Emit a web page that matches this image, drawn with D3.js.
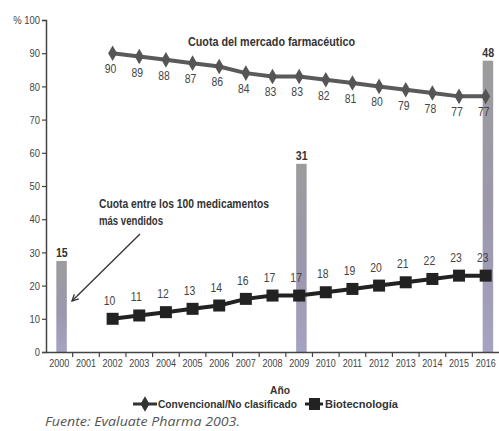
<!DOCTYPE html>
<html><head><meta charset="utf-8">
<script src="https://cdn.jsdelivr.net/npm/d3@7/dist/d3.min.js"></script>
<style>body{margin:0;background:#fff}svg{display:block}</style>
</head><body><svg id="c" width="499" height="431"></svg>
<script>
const years = d3.range(2000, 2017).map(String);
const lineYears = d3.range(2002, 2017).map(String);
const convencional = [90,89,88,87,86,84,83,83,82,81,80,79,78,77,77];
const biotecnologia = [10,11,12,13,14,16,17,17,18,19,20,21,22,23,23];
const barYears = ["2000","2009","2016"];
const barValues = [15,31,48];
const yTicks = [0,10,20,30,40,50,60,70,80,90,100];

const FONT = "'Liberation Sans',Arial,sans-serif";
const SX = 0.82;
const svg = d3.select("#c");
const x = d3.scaleBand().domain(years).range([46, 499]);
const y = d3.scaleLinear().domain([0,100]).range([352, 20]);
const yBar = d3.scaleLinear().domain([0,54.7]).range([352, 20]);
const cx = d => x(d) + x.bandwidth()/2;

function label(sel, px, py, sx){
  return sel.attr("transform", (d,i) => `translate(${px(d,i)},${py(d,i)}) scale(${sx},1)`);
}

const defs = svg.append("defs");
const g = defs.append("linearGradient").attr("id","bg").attr("x1",0).attr("x2",0).attr("y1",0).attr("y2",1);
g.append("stop").attr("offset","0%").attr("stop-color","#9c9c9c");
g.append("stop").attr("offset","55%").attr("stop-color","#9c97ad");
g.append("stop").attr("offset","100%").attr("stop-color","#a5a3c2");

// bars
svg.append("g").selectAll("rect").data(barYears).join("rect")
  .attr("x", d => cx(d) - 3).attr("width", 10.5)
  .attr("y", (d,i) => yBar(barValues[i]))
  .attr("height", (d,i) => 352 - yBar(barValues[i]))
  .attr("fill","url(#bg)");
label(svg.append("g").selectAll("text").data(barYears).join("text"),
    d => cx(d) + 2.5, (d,i) => yBar(barValues[i]) - 4, 0.85)
  .attr("text-anchor","middle").attr("font-family",FONT).attr("font-weight","bold")
  .attr("font-size",12.5).attr("fill","#333").text((d,i)=>barValues[i]);

// axes
const xAxis = svg.append("g").attr("transform","translate(0,352)")
  .call(d3.axisBottom(x).tickSize(0).tickPadding(7));
xAxis.select(".domain").attr("stroke","#444").attr("stroke-width",1.5);
xAxis.selectAll("text").attr("font-family",FONT).attr("font-size",11).attr("fill","#444")
  .attr("transform",`scale(${SX},1)`);
svg.append("g").selectAll("line").data(years.slice(1)).join("line")
  .attr("x1", d=>x(d)).attr("x2", d=>x(d)).attr("y1",352).attr("y2",357)
  .attr("stroke","#444").attr("stroke-width",1.2);

const yAxis = svg.append("g").attr("transform","translate(46,0)")
  .call(d3.axisLeft(y).tickValues(yTicks).tickSize(4).tickPadding(2).tickFormat(d => d===100 ? "% 100" : d));
yAxis.select(".domain").attr("stroke","#444").attr("stroke-width",1.5);
yAxis.selectAll(".tick line").attr("stroke","#444").attr("stroke-width",1.2);
yAxis.selectAll("text").attr("font-family",FONT).attr("font-size",11.5).attr("fill","#444")
  .attr("x",0).attr("transform",`translate(-6,0) scale(${SX},1)`);

// lines
const line = d3.line().x((d,i)=>cx(lineYears[i])).y(d=>y(d));
svg.append("path").datum(convencional).attr("d",line)
  .attr("fill","none").attr("stroke","#5a5a5a").attr("stroke-width",4);
svg.append("g").selectAll("path").data(convencional).join("path")
  .attr("transform",(d,i)=>`translate(${cx(lineYears[i])},${y(d)})`)
  .attr("d", d3.symbol(d3.symbolDiamond, 70)()).attr("fill","#555");
label(svg.append("g").selectAll("text").data(convencional).join("text"),
    (d,i)=>cx(lineYears[i])-2, d=>y(d)+20, 0.8)
  .attr("text-anchor","middle").attr("font-family",FONT).attr("font-size",13).attr("fill","#444").text(d=>d);

svg.append("path").datum(biotecnologia).attr("d",line)
  .attr("fill","none").attr("stroke","#222").attr("stroke-width",4);
svg.append("g").selectAll("rect").data(biotecnologia).join("rect")
  .attr("x",(d,i)=>cx(lineYears[i])-6).attr("y",d=>y(d)-6).attr("width",12).attr("height",12)
  .attr("fill","#222");
label(svg.append("g").selectAll("text").data(biotecnologia).join("text"),
    (d,i)=>cx(lineYears[i])-3, d=>y(d)-14, 0.8)
  .attr("text-anchor","middle").attr("font-family",FONT).attr("font-size",13).attr("fill","#444").text(d=>d);

// annotations
function txt(t, px, py, size, w, bold){
  return svg.append("text").attr("x",px).attr("y",py).attr("font-family",FONT)
    .attr("font-weight", bold ? "bold" : "normal").attr("font-size",size).attr("fill","#333")
    .attr("textLength",w).attr("lengthAdjust","spacingAndGlyphs").text(t);
}
txt("Cuota del mercado farmacéutico", 188, 46, 12, 167, true);
txt("Cuota entre los 100 medicamentos", 99, 208, 12, 170, true);
txt("más vendidos", 99, 225, 12, 64, true);
defs.append("marker").attr("id","ar").attr("viewBox","0 0 10 10").attr("refX",9).attr("refY",5)
  .attr("markerWidth",8).attr("markerHeight",8).attr("orient","auto").attr("markerUnits","userSpaceOnUse")
  .append("path").attr("d","M1,1L9,5L1,9").attr("fill","none").attr("stroke","#333").attr("stroke-width",1.6);
svg.append("line").attr("x1",140).attr("y1",234).attr("x2",72).attr("y2",301)
  .attr("stroke","#333").attr("stroke-width",1.3).attr("marker-end","url(#ar)");

// axis title
txt("Año", 270, 394, 11.5, 20, true);

// legend
const lg = svg.append("g");
lg.append("line").attr("x1",133).attr("x2",157).attr("y1",404).attr("y2",404).attr("stroke","#333").attr("stroke-width",3);
lg.append("path").attr("transform","translate(145,404)").attr("d",d3.symbol(d3.symbolDiamond,70)()).attr("fill","#333");
txt("Convencional/No clasificado", 158, 408, 11.5, 139, true);
lg.append("line").attr("x1",305).attr("x2",323).attr("y1",404).attr("y2",404).attr("stroke","#222").attr("stroke-width",3);
lg.append("rect").attr("x",309).attr("y",398).attr("width",11).attr("height",12).attr("fill","#222");
txt("Biotecnología", 325, 408, 11.5, 73, true);

svg.append("text").attr("x",45).attr("y",426).attr("font-family","'Open Sans','DejaVu Sans',sans-serif")
  .attr("font-style","italic").attr("font-size",12).attr("fill","#555")
  .attr("textLength",195).attr("lengthAdjust","spacingAndGlyphs").text("Fuente: Evaluate Pharma 2003.");
</script></body></html>
